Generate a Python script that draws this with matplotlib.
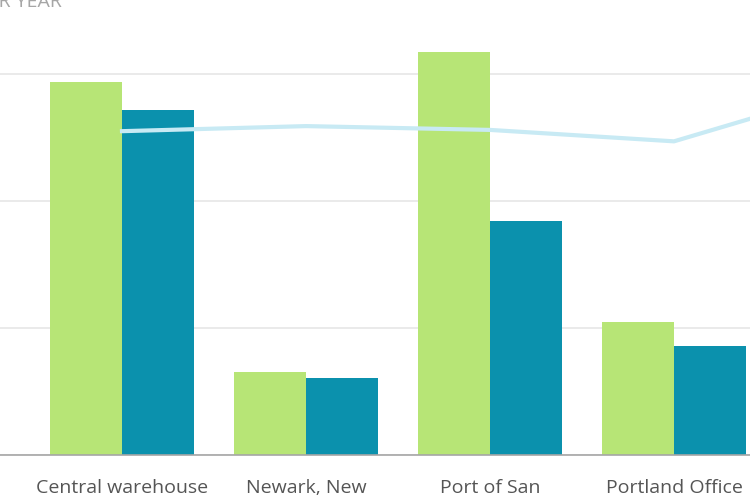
import numpy as np
import matplotlib.pyplot as plt

plt.rcParams['font.family'] = ['Open Sans', 'DejaVu Sans']

# Data (grid step = 100)
categories = ["Central warehouse", "Newark, New", "Port of San",
              "Portland Office", ""]
series_a = [294, 65, 317, 105, 0]
series_b = [272, 61, 184, 86, 0]
trend = [255, 259, 256, 247, 290]

green = "#b7e576"
teal = "#0b91ad"
line_col = "#c8eaf4"

x = np.arange(len(categories))
w = 0.39

fig = plt.figure(figsize=(7.5, 5), dpi=100)
ax = fig.add_axes([0, 0.09, 1, 0.91])

ax.bar(x - w / 2, series_a, width=w, color=green, zorder=2)
ax.bar(x + w / 2, series_b, width=w, color=teal, zorder=2)
ax.plot(x, trend, color=line_col, linewidth=3, zorder=3)

ax.set_xticks(x)
ax.set_xticklabels(categories, fontsize=14, color="#555555", va="top")
ax.tick_params(axis="x", length=0, pad=17)
ax.set_yticks([0, 100, 200, 300])
ax.set_xlim(-0.663, 3.413)
ax.set_ylim(0, 358.3)
ax.yaxis.grid(True, color="#e6e6e6", linewidth=1.2, zorder=0)
ax.set_axisbelow(True)
ax.tick_params(axis="y", left=False, labelleft=False)

for side in ["top", "right", "left"]:
    ax.spines[side].set_visible(False)
ax.spines["bottom"].set_color("#a6a6a6")
ax.spines["bottom"].set_linewidth(1.2)

fig.text(62 / 750, 1 - 7 / 500, "COST PER YEAR", ha="right", va="baseline",
         fontsize=14, color="#a6a6a6")

fig.savefig("out.png", dpi=100)
